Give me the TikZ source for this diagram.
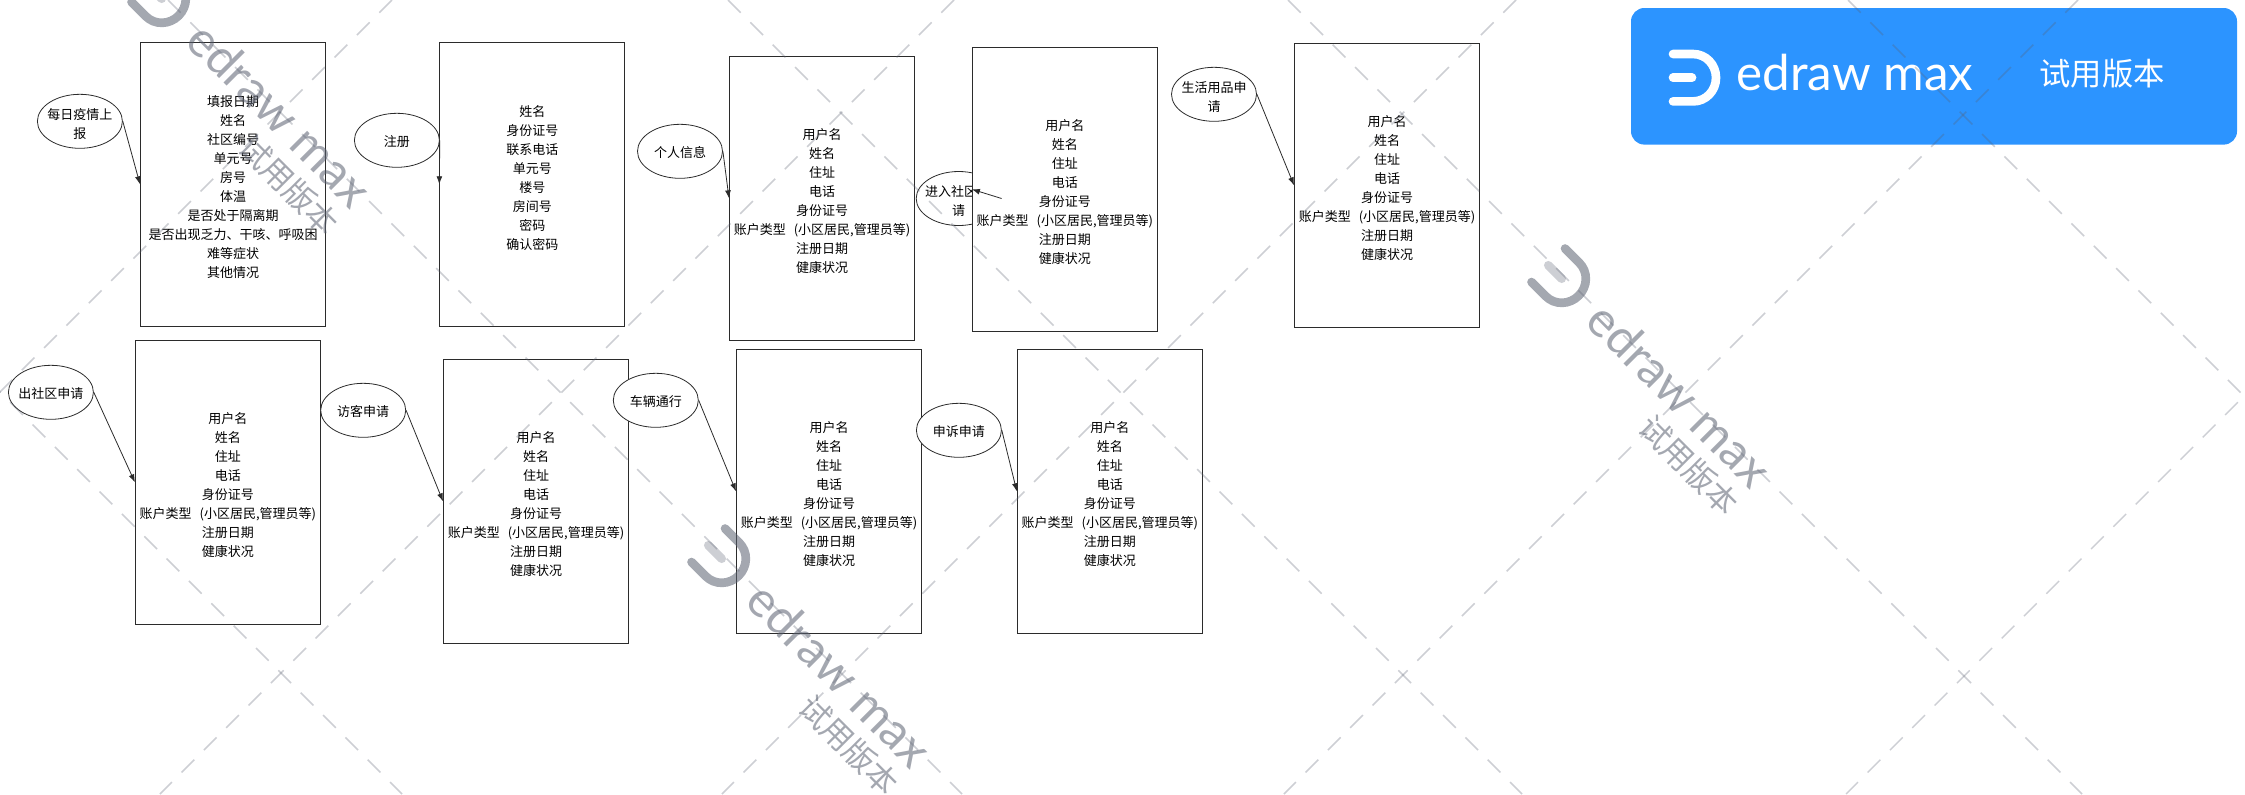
\documentclass[tikz,border=0pt]{standalone}
\usepackage{fontspec}
\setmainfont{Noto Sans CJK SC}
\newfontfamily\logofont{Lato}
\usetikzlibrary{arrows.meta, positioning, shapes}
\definecolor{badgeblue}{HTML}{2C94FF}
\definecolor{inkgrey}{HTML}{2B2B2B}
\definecolor{markgrey}{HTML}{5A6070}
\tikzstyle{record} = [draw=inkgrey, line width=0.75pt, fill=white, rectangle, minimum width=138.75pt, minimum height=213pt, inner sep=0pt, align=center, font=\fontsize{9.75pt}{14.25pt}\selectfont]
\tikzstyle{entity} = [draw=inkgrey, line width=0.6pt, fill=white, ellipse, minimum width=63.75pt, minimum height=40.5pt, inner sep=-30pt, align=center, font=\fontsize{9.75pt}{14.25pt}\selectfont, execute at begin node={\rule{0pt}{10.8pt}}]
\tikzstyle{arrow} = [-{Latex[length=6pt, width=4.4pt]}, inkgrey, line width=0.6pt]
\tikzstyle{lattice} = [markgrey, opacity=0.3, line width=1.1pt, dash pattern=on 13.5pt off 10.2pt]
\tikzset{edrawmark/.pic={
    \draw [pic actions, line width=6.5pt, line cap=round] (-18,-23.7) -- (2,-23.7) .. controls (15,-23.7) and (25,-13) .. (25,0) .. controls (25,13) and (15,23.7) .. (2,23.7) -- (-18,23.7);
  }}
\newcommand{\topgap}{\rule{0pt}{11.8pt}}
\newcommand{\userfields}{\topgap 用户名\\姓名\\住址\\电话\\身份证号\\账户类型\hspace{6pt}(小区居民,管理员等)\\注册日期\\健康状况}
\begin{document}
\begin{tikzpicture}[x=0.75pt, y=-0.75pt]
    \useasboundingbox (0,0) rectangle (2245,794);

    % Place the upper row
    \node [record] (report) at (233,184.3) {\topgap 填报日期\\姓名\\社区编号\\单元号\\房号\\体温\\是否处于隔离期\\是否出现乏力、干咳、呼吸困\\难等症状\\其他情况};
    \node [entity] (reportin) at (79.9,121.3) {\topgap 每日疫情上\\报};
    \node [record] (signup) at (532.3,184.3) {\topgap 姓名\\身份证号\\联系电话\\单元号\\楼号\\房间号\\密码\\确认密码\\ \mbox{}};
    \node [entity] (signupin) at (396.9,140.3) {注册};
    \node [record] (profile) at (822,198.3) {\userfields};
    \node [entity] (profilein) at (680,151.3) {个人信息};
    \node [entity] (enterin) at (958.7,198.5) {\topgap 进入社区\rule{11.5pt}{0pt}\\请};
    \node [record] (enter) at (1064.9,189.3) {\userfields};
    \node [record] (goods) at (1387,185.3) {\userfields};
    \node [entity] (goodsin) at (1214,94.3) {\topgap 生活用品申\\请};

    % Place the lower row
    \node [record] (leave) at (227.9,482.3) {\userfields};
    \node [entity] (leavein) at (50.9,392.3) {出社区申请};
    \node [record] (visitor) at (536,501.3) {\userfields};
    \node [entity] (visitorin) at (363.2,410.3) {访客申请};
    \node [record] (vehicle) at (829,491.3) {\userfields};
    \node [entity] (vehiclein) at (655.8,400.3) {车辆通行};
    \node [record] (appeal) at (1109.8,491.3) {\userfields};
    \node [entity] (appealin) at (958.9,430.3) {申诉申请};

    % Connect the nodes
    \draw [arrow] (reportin.east) -- (report.west);
    \draw [arrow] (signupin.east) -- (signup.west);
    \draw [arrow] (profilein.east) -- (profile.west);
    \draw [arrow] (enterin.east) -- (enter.west);
    \draw [arrow] (goodsin.east) -- (goods.west);
    \draw [arrow] (leavein.east) -- (leave.west);
    \draw [arrow] (visitorin.east) -- (visitor.west);
    \draw [arrow] (vehiclein.east) -- (vehicle.west);
    \draw [arrow] (appealin.east) -- (appeal.west);

    % The badge
    \draw [fill=badgeblue, draw=none, rounded corners=10pt] (1631,8) rectangle (2237,144.6);
    \pic [white] at (1691,77.7) {edrawmark};
    \draw [white, line width=6.5pt, line cap=round] (1673,77.7) -- (1692,77.7);
    \node [text=white, font=\logofont\fontsize{37pt}{37pt}\selectfont] (badgename) at (1855,73) {edraw max};
    \node [text=white, font=\fontsize{23.5pt}{23.5pt}\selectfont] (badgetrial) at (2102,74) {试用版本};

    % The watermark on top of it all
    \foreach \c in {392,954,1516,2078,2640}
      \draw [lattice] (\c,0) -- (\c-794,794);
    \foreach \d in {-392,168,728,1288,1848}
      \draw [lattice] (\d,0) -- (\d+794,794);
    \foreach \x/\y/\n in {280/114/a,840/674/b,1680/394/c} {
      \pic [markgrey, opacity=0.55, rotate=-45] at ([shift={(-119,-116)}]\x,\y) {edrawmark};
      \draw [markgrey, opacity=0.3, line width=6.5pt, line cap=round, rotate around={-45:(\x-119,\y-116)}] (\x-137,\y-116) -- (\x-118,\y-116);
      \node [text=markgrey, text opacity=0.55, rotate=-45, font=\logofont\fontsize{37pt}{37pt}\selectfont] (wmname\n) at (\x,\y) {edraw max};
      \node [text=markgrey, text opacity=0.55, rotate=-45, font=\fontsize{23.5pt}{23.5pt}\selectfont] (wmtrial\n) at (\x+9,\y+71) {试用版本};
    }
\end{tikzpicture}
\end{document}
